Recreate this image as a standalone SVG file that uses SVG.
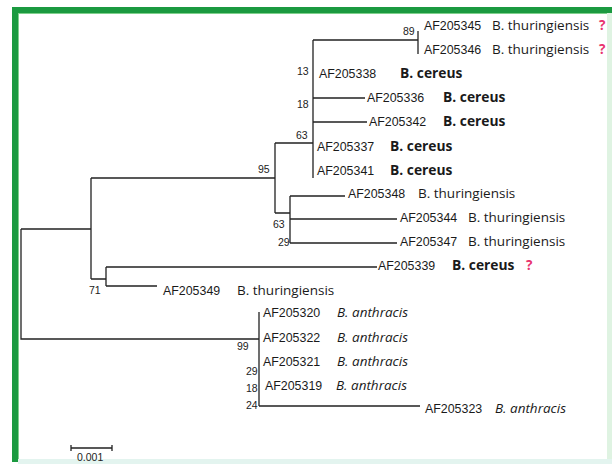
<svg xmlns="http://www.w3.org/2000/svg" width="612" height="464" viewBox="0 0 612 464">
<style>
.acc{font-family:"Liberation Sans",Arial,sans-serif;font-size:12.4px;fill:#1a1a1a}
.sp{font-family:"Open Sans","Noto Sans",sans-serif;font-size:13.5px;fill:#1a1a1a}
.b{font-weight:bold;font-size:13.8px}
.it{font-style:italic}
.q{font-family:"Open Sans","Noto Sans",sans-serif;font-size:13.5px;font-weight:bold;fill:#e8336e}
.bs{font-family:"Liberation Sans",Arial,sans-serif;font-size:10.5px;fill:#222}
.br{fill:none;stroke:#222;stroke-width:1.3}
</style>
<rect x="0" y="0" width="612" height="464" fill="#ffffff"/>
<g id="frame">
<rect x="12" y="7" width="600" height="6" fill="#1b9a40"/>
<rect x="12" y="7" width="6" height="455" fill="#1b9a40"/>
<rect x="18" y="13" width="594" height="1" fill="#7fd08c"/>
<rect x="18" y="13" width="1" height="449" fill="#7fd08c"/>
<rect x="607" y="13" width="5" height="449" fill="#dff3e2"/>
<rect x="18" y="459" width="594" height="5" fill="#e3f4ef"/>
</g>
<g id="connectors" class="br">
<path d="M21 229H91M21 229V339H259"/>
<path d="M91 178V279M91 178H275M91 279H106"/>
<path d="M106 267V286M106 267H377M106 286H157"/>
<path d="M275 143V213M275 143H313M275 213H290"/>
<path d="M290 196V243M290 196H345M290 219H397M290 243H397"/>
<path d="M313 40V178M313 40H418M418 31V54M313 98H365M313 122H367"/>
<path d="M259 312V406M259 406H420"/>
</g>
<g id="bootstrap">
<text class="bs" x="403" y="35">89</text>
<text class="bs" x="297" y="75">13</text>
<text class="bs" x="297" y="108">18</text>
<text class="bs" x="296" y="139">63</text>
<text class="bs" x="258" y="173">95</text>
<text class="bs" x="273" y="228">63</text>
<text class="bs" x="278" y="246">29</text>
<text class="bs" x="89" y="294">71</text>
<text class="bs" x="237" y="350">99</text>
<text class="bs" x="246" y="375">29</text>
<text class="bs" x="246" y="392">18</text>
<text class="bs" x="246" y="409">24</text>
</g>
<g id="AF205345"><text class="acc" x="424" y="29.5">AF205345</text><text class="sp" x="492" y="29.5">B. thuringiensis</text><text class="q" x="599" y="29.5">?</text></g>
<g id="AF205346"><text class="acc" x="424" y="54.3">AF205346</text><text class="sp" x="492" y="54.3">B. thuringiensis</text><text class="q" x="599" y="54.3">?</text></g>
<g id="AF205338"><text class="acc" x="319" y="78">AF205338</text><text class="sp b" x="400" y="78">B. cereus</text></g>
<g id="AF205336"><text class="acc" x="367" y="102">AF205336</text><text class="sp b" x="443" y="102">B. cereus</text></g>
<g id="AF205342"><text class="acc" x="369" y="126">AF205342</text><text class="sp b" x="443" y="126">B. cereus</text></g>
<g id="AF205337"><text class="acc" x="317" y="151">AF205337</text><text class="sp b" x="390" y="151">B. cereus</text></g>
<g id="AF205341"><text class="acc" x="317" y="175">AF205341</text><text class="sp b" x="390" y="175">B. cereus</text></g>
<g id="AF205348"><text class="acc" x="348" y="198">AF205348</text><text class="sp" x="418" y="198">B. thuringiensis</text></g>
<g id="AF205344"><text class="acc" x="400" y="222">AF205344</text><text class="sp" x="468" y="222">B. thuringiensis</text></g>
<g id="AF205347"><text class="acc" x="400" y="246">AF205347</text><text class="sp" x="468" y="246">B. thuringiensis</text></g>
<g id="AF205339"><text class="acc" x="378" y="270">AF205339</text><text class="sp b" x="452" y="270">B. cereus</text><text class="q" x="526" y="270">?</text></g>
<g id="AF205349"><text class="acc" x="163" y="295">AF205349</text><text class="sp" x="237" y="295">B. thuringiensis</text></g>
<g id="AF205320"><text class="acc" x="263" y="317">AF205320</text><text class="sp it" x="337" y="317">B. anthracis</text></g>
<g id="AF205322"><text class="acc" x="263" y="342">AF205322</text><text class="sp it" x="337" y="342">B. anthracis</text></g>
<g id="AF205321"><text class="acc" x="263" y="366">AF205321</text><text class="sp it" x="337" y="366">B. anthracis</text></g>
<g id="AF205319"><text class="acc" x="265" y="390">AF205319</text><text class="sp it" x="336" y="390">B. anthracis</text></g>
<g id="AF205323"><text class="acc" x="425" y="413">AF205323</text><text class="sp it" x="495" y="413">B. anthracis</text></g>
<g id="scale">
<path class="br" d="M71 448H112M71 445V451M112 445V451"/>
<text class="bs" x="77" y="461">0.001</text>
</g>
</svg>
